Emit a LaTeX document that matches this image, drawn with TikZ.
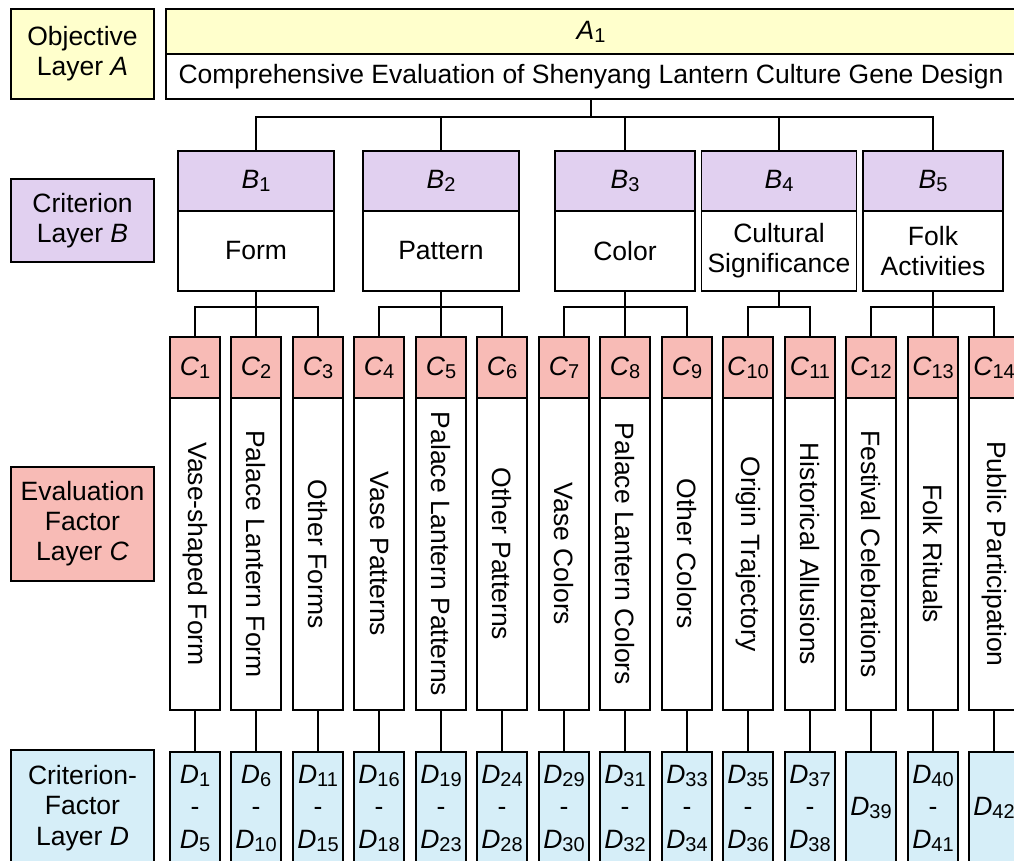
\documentclass[tikz,border=0pt]{standalone}
\usepackage{fontspec}
\setmainfont{Liberation Sans}
\newcommand{\lsub}[1]{\raisebox{-3pt}{\fontsize{20}{20}\selectfont #1}}
\definecolor{ayel}{RGB}{255,255,204}
\definecolor{bpur}{RGB}{225,208,240}
\definecolor{cpink}{RGB}{248,187,182}
\definecolor{dblue}{RGB}{214,238,248}
\begin{document}
\begin{tikzpicture}[x=1pt,y=-1pt,
  box/.style={draw, line width=1.8pt, inner sep=0pt, outer sep=0pt, align=center,
    font=\fontsize{26.5}{30}\selectfont},
  ybox/.style={box, fill=ayel},
  pbox/.style={box, fill=bpur},
  rbox/.style={box, fill=cpink},
  dbox/.style={box, fill=dblue, font=\fontsize{26.5}{32.5}\selectfont},
  wbox/.style={box, fill=white},
  vtext/.style={inner sep=0pt, font=\fontsize{26.5}{30}\selectfont},
  conn/.style={draw, line width=1.6pt}]
\clip (0,0) rectangle (1014,861);
\fill[white] (0,0) rectangle (1014,861);

% left labels
\node[ybox, minimum width=143, minimum height=90] (LA) at (82.5,54) {Objective\\Layer \textit{A}};
\node[pbox, minimum width=143, minimum height=83] (LB) at (82.5,220.5) {Criterion\\Layer \textit{B}};
\node[rbox, minimum width=143, minimum height=114] (LC) at (82.5,524) {Evaluation\\Factor\\Layer \textit{C}};
\node[dbox, minimum width=143, minimum height=116, font=\fontsize{26.5}{30.5}\selectfont] (LD) at (82.5,808) {Criterion-\\Factor\\Layer \textit{D}};

% A
\node[ybox, minimum width=850, minimum height=45] (A1h) at (591,31.5) {\textit{A}\lsub{1}};
\node[wbox, minimum width=850, minimum height=45] (A1b) at (591,76.5) {Comprehensive Evaluation of Shenyang Lantern Culture Gene Design};

% B
\foreach \i/\cx/\w/\t in {1/256/156/{Form}, 2/441/156/{Pattern}, 3/625/140/{Color},
    4/779/155/{Cultural\\Significance}, 5/933/140/{Folk\\Activities}}{
  \node[pbox, minimum width=\w, minimum height=60] (B\i h) at (\cx,181) {\textit{B}\lsub{\i}};
  \node[wbox, minimum width=\w, minimum height=80] (B\i b) at (\cx,251) {\t};
  \draw[conn] (A1b.south) -- ++(0,18) -| (B\i h.north);
}

% C
\foreach \i/\t in {1/{Vase-shaped Form}, 2/{Palace Lantern Form}, 3/{Other Forms},
    4/{Vase Patterns}, 5/{Palace Lantern Patterns}, 6/{Other Patterns},
    7/{Vase Colors}, 8/{Palace Lantern Colors}, 9/{Other Colors},
    10/{Origin Trajectory}, 11/{Historical Allusions}, 12/{Festival Celebrations},
    13/{Folk Rituals}, 14/{Public Participation}}{
  \pgfmathsetmacro{\cx}{round(194.75+(\i-1)*61.5)}
  \node[rbox, minimum width=49.5, minimum height=61] (C\i h) at (\cx,367.5) {\textit{C}\lsub{\i}};
  \node[wbox, minimum width=49.5, minimum height=312] (C\i b) at (\cx,554) {};
  \node[vtext, rotate=-90] (C\i t) at (C\i b.center) {\t};
}

% B -> C connectors
\foreach \p/\c in {1/1,1/2,1/3,2/4,2/5,2/6,3/7,3/8,3/9,4/10,4/11,5/12,5/13,5/14}{
  \draw[conn] (B\p b.south) -- ++(0,16) -| (C\c h.north);
}

% D
\foreach \i/\a/\b in {1/1/5, 2/6/10, 3/11/15, 4/16/18, 5/19/23, 6/24/28, 7/29/30,
    8/31/32, 9/33/34, 10/35/36, 11/37/38, 13/40/41}{
  \pgfmathsetmacro{\cx}{round(194.75+(\i-1)*61.5)}
  \node[dbox, minimum width=49.5, minimum height=112] (D\i) at (\cx,808)
    {\textit{D}\lsub{\a}\\-\\\textit{D}\lsub{\b}};
}
\node[dbox, minimum width=49.5, minimum height=112] (D12) at (871,808) {\textit{D}\lsub{39}};
\node[dbox, minimum width=49.5, minimum height=112] (D14) at (994,808) {\textit{D}\lsub{42}};

% C -> D connectors
\foreach \i in {1,...,14}{
  \draw[conn] (C\i b.south) -- (D\i.north);
}
\end{tikzpicture}
\end{document}
